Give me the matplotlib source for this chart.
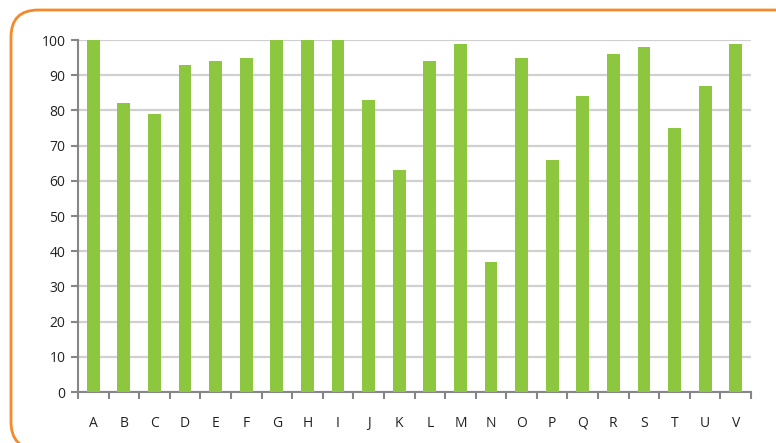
import matplotlib.pyplot as plt
from matplotlib.patches import FancyBboxPatch

# Scores per category
categories = list('ABCDEFGHIJKLMNOPQRSTUV')
values = [100, 82, 79, 93, 94, 95, 100, 100, 100, 83, 63,
          94, 99, 37, 95, 66, 84, 96, 98, 75, 87, 99]

plt.rcParams['font.family'] = ['Open Sans', 'DejaVu Sans']
plt.rcParams['font.size'] = 10

fig = plt.figure(figsize=(7.76, 4.43), dpi=100, facecolor='white')

# Rounded orange frame around the chart
frame = FancyBboxPatch((11 / 776, -6 / 443), 790 / 776, 439 / 443,
                       boxstyle='round,pad=0,rounding_size=0.035',
                       transform=fig.transFigure, facecolor='white',
                       edgecolor='#f58a2a', linewidth=2, clip_on=False,
                       mutation_aspect=776 / 443, zorder=0)
fig.patches.append(frame)

ax = fig.add_axes([78 / 776, 1 - 392 / 443, 673 / 776, 352 / 443])
ax.set_zorder(2)
ax.set_facecolor('none')

x = list(range(len(categories)))
ax.bar(x, values, width=0.42, color='#8dc63f', zorder=3)

ax.set_xlim(-0.5, len(categories) - 0.5)
ax.set_ylim(0, 100)
ax.set_yticks(range(0, 101, 10))
ax.set_xticks(x)
ax.set_xticklabels(categories)
ax.set_xticks([i - 0.5 for i in range(len(categories) + 1)], minor=True)

ax.grid(axis='y', color='#d0d0d0', linewidth=1.6, zorder=0)
for s in ['top', 'right']:
    ax.spines[s].set_visible(False)
for s in ['left', 'bottom']:
    ax.spines[s].set_color('#868686')
    ax.spines[s].set_linewidth(1.5)

ax.tick_params(axis='x', which='major', length=0, pad=17, colors='#222222')
ax.tick_params(axis='x', which='minor', length=5, width=1.5, color='#868686')
ax.tick_params(axis='y', length=5, width=1.5, color='#868686',
               labelcolor='#222222', pad=4)

plt.savefig('out.png', dpi=100, facecolor='white')
